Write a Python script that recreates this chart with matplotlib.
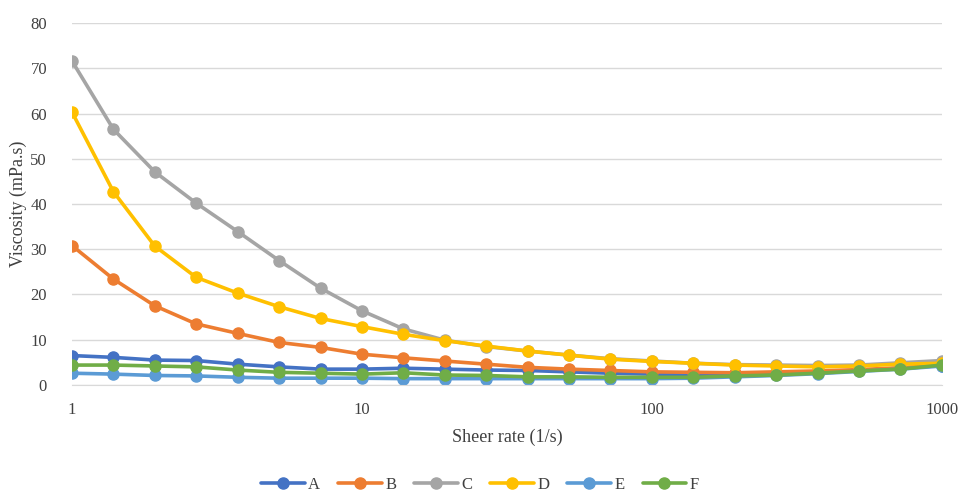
import matplotlib
matplotlib.use('Agg')
import matplotlib.pyplot as plt
import numpy as np

plt.rcParams['font.family'] = ['Liberation Serif', 'DejaVu Serif']

# shear rate, 7 points per decade
shear = [1, 1.39, 1.93, 2.68, 3.73, 5.18, 7.2, 10, 13.9, 19.3, 26.8, 37.3,
         51.8, 72, 100, 139, 193, 268, 373, 518, 720, 1000]

A = [6.5, 6.1, 5.5, 5.4, 4.6, 4.0, 3.5, 3.5, 3.7, 3.5, 3.3, 3.2, 2.9, 2.6,
     2.4, 2.2, 2.3, 2.5, 2.8, 3.2, 3.7, 4.3]
B = [30.8, 23.4, 17.5, 13.5, 11.4, 9.4, 8.3, 6.8, 6.0, 5.3, 4.6, 3.9, 3.5,
     3.2, 2.9, 2.8, 2.7, 2.9, 3.1, 3.4, 3.8, 4.4]
C = [71.6, 56.5, 47.1, 40.2, 33.9, 27.5, 21.4, 16.4, 12.4, 9.9, 8.5, 7.5,
     6.6, 5.8, 5.3, 4.8, 4.5, 4.4, 4.3, 4.4, 4.9, 5.4]
D = [60.3, 42.7, 30.7, 23.8, 20.3, 17.3, 14.7, 12.9, 11.2, 9.8, 8.6, 7.5,
     6.6, 5.7, 5.2, 4.8, 4.4, 4.2, 4.0, 4.2, 4.6, 4.8]
E = [2.6, 2.4, 2.1, 2.0, 1.7, 1.5, 1.5, 1.5, 1.4, 1.4, 1.4, 1.4, 1.4, 1.4,
     1.4, 1.5, 1.8, 2.1, 2.5, 3.0, 3.5, 4.2]
F = [4.4, 4.4, 4.2, 4.0, 3.3, 2.8, 2.6, 2.4, 2.7, 2.2, 2.1, 1.8, 1.8, 1.7,
     1.7, 1.7, 2.0, 2.2, 2.6, 3.1, 3.5, 4.4]

names = ['A', 'B', 'C', 'D', 'E', 'F']
series = [A, B, C, D, E, F]
colors = ['#4472C4', '#ED7D31', '#A5A5A5', '#FFC000', '#5B9BD5', '#70AD47']

fig = plt.figure(figsize=(9.6, 4.97), dpi=100)
ax = fig.add_axes([0.075, 0.2254, 0.906, 0.7283])

for name, vals, c in zip(names, series, colors):
    ax.plot(shear, vals, color=c, lw=2.6, marker='o', ms=8,
            solid_joinstyle='round', solid_capstyle='round', label=name)

ax.set_xscale('log')
ax.set_xlim(1, 1000)
ax.set_ylim(0, 80)
ax.set_xticks([1, 10, 100, 1000])
ax.set_xticklabels(['1', '10', '100', '1000'])
ax.minorticks_off()
ax.set_yticks(range(0, 81, 10))
ax.tick_params(axis='both', length=0, labelsize=12, colors='#404040')
ax.tick_params(axis='x', pad=12)
ax.tick_params(axis='y', pad=18)
ax.grid(axis='y', color='#D9D9D9', lw=1)
ax.set_axisbelow(True)
for s in ['top', 'right', 'left']:
    ax.spines[s].set_visible(False)
ax.spines['bottom'].set_color('#D9D9D9')

ax.set_xlabel('Sheer rate (1/s)', fontsize=13, color='#404040', labelpad=8)
ax.set_ylabel('Viscosity (mPa.s)', fontsize=13, color='#404040')
ax.yaxis.set_label_coords(-0.052, 0.5)

fig.legend(loc='lower center', ncol=6, frameon=False, fontsize=12,
           bbox_to_anchor=(0.5, -0.022), handlelength=2.6, columnspacing=1.1,
           handletextpad=0.2, labelcolor='#404040')

fig.savefig('out.png', dpi=100)
